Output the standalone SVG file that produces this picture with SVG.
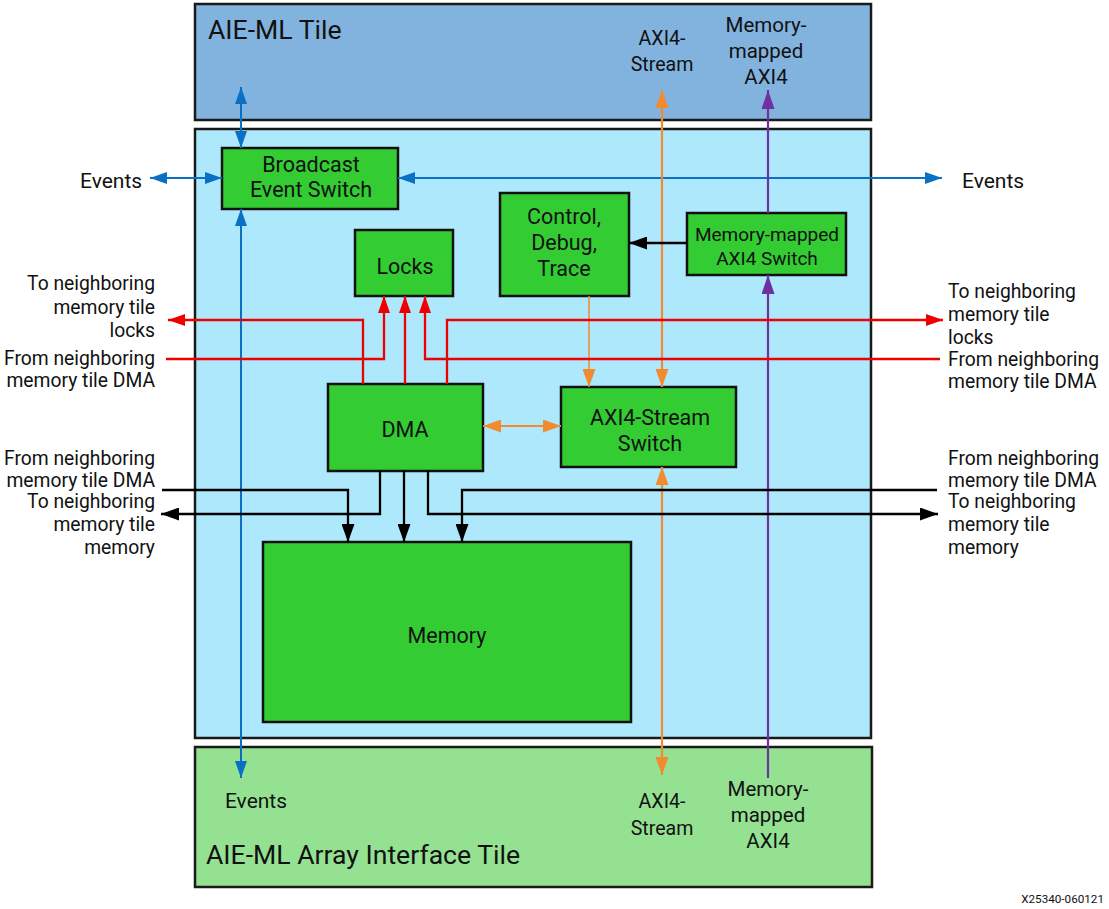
<svg xmlns="http://www.w3.org/2000/svg" width="1109" height="909" viewBox="0 0 1109 909">
<style>
.tile{stroke:#1a1a1a;stroke-width:2.5}
.box{fill:#33cc33;stroke:#111;stroke-width:2.5}
text{font-family:Roboto,"Liberation Sans",sans-serif;fill:#111}
.t{font-size:21.5px;text-anchor:middle}
.s{font-size:19px;text-anchor:middle}
.lbl{font-size:19.3px}
.ev{font-size:21px}
.mm{font-size:20.5px;text-anchor:middle}
.ax{font-size:19.6px;text-anchor:middle}
.r{text-anchor:end}
.big{font-size:26.6px}
.c{fill:none}
.blue{stroke:#0a70c4;stroke-width:2;marker-start:url(#ab);marker-end:url(#ab)}
.or{stroke:#f28a30;stroke-width:2.2}
.pu{stroke:#7030a0;stroke-width:2.2;marker-end:url(#ap)}
.bk{stroke:#000;stroke-width:2.3;marker-end:url(#ak)}
.rd{stroke:#ee0000;stroke-width:2.3;marker-end:url(#ar)}
</style>
<defs>
<marker id="ab" markerUnits="userSpaceOnUse" markerWidth="17" markerHeight="12" refX="17" refY="6" orient="auto-start-reverse"><path d="M0,0 L17,6 L0,12 z" fill="#0a70c4"/></marker>
<marker id="ao" markerUnits="userSpaceOnUse" markerWidth="18" markerHeight="13" refX="18" refY="6.5" orient="auto-start-reverse"><path d="M0,0 L18,6.5 L0,13 z" fill="#f28a30"/></marker>
<marker id="ap" markerUnits="userSpaceOnUse" markerWidth="19" markerHeight="13" refX="19" refY="6.5" orient="auto"><path d="M0,0 L19,6.5 L0,13 z" fill="#7030a0"/></marker>
<marker id="ak" markerUnits="userSpaceOnUse" markerWidth="18" markerHeight="13" refX="18" refY="6.5" orient="auto"><path d="M0,0 L18,6.5 L0,13 z" fill="#000"/></marker>
<marker id="ar" markerUnits="userSpaceOnUse" markerWidth="17" markerHeight="12" refX="17" refY="6" orient="auto"><path d="M0,0 L17,6 L0,12 z" fill="#ee0000"/></marker>
</defs>
<rect width="1109" height="909" fill="#fff"/>
<g id="tile-top"><rect class="tile" x="195" y="4" width="676" height="116" fill="#82b3de"/><text class="big" x="208" y="39">AIE-ML Tile</text></g>
<g id="tile-mem"><rect class="tile" x="195" y="129" width="676" height="609" fill="#aee8fc"/></g>
<g id="tile-bottom"><rect class="tile" x="195" y="747" width="677" height="140" fill="#94e291"/><text class="big" x="206" y="864">AIE-ML Array Interface Tile</text></g>
<g id="bes"><rect class="box" x="222" y="148" width="176" height="61"/><text class="t" x="311" y="172">Broadcast</text><text class="t" x="311" y="197">Event Switch</text></g>
<g id="locks"><rect class="box" x="355" y="230" width="98" height="66"/><text class="t" x="405" y="274">Locks</text></g>
<g id="cdt"><rect class="box" x="500" y="193" width="129" height="103"/><text class="t" x="564" y="224">Control,</text><text class="t" x="564" y="250">Debug,</text><text class="t" x="564" y="276">Trace</text></g>
<g id="mmsw"><rect class="box" x="687" y="213" width="159" height="62"/><text class="s" x="767" y="241">Memory-mapped</text><text class="s" x="767" y="265">AXI4 Switch</text></g>
<g id="dma"><rect class="box" x="328" y="384" width="155" height="87"/><text class="t" x="405" y="437">DMA</text></g>
<g id="axis"><rect class="box" x="561" y="387" width="175" height="80"/><text class="t" x="650" y="425">AXI4-Stream</text><text class="t" x="650" y="451">Switch</text></g>
<g id="memory"><rect class="box" x="263" y="542" width="368" height="180"/><text class="t" x="447" y="643">Memory</text></g>
<g id="connectors" class="c">
<path class="blue" d="M241,87 L241,148"/>
<path class="blue" d="M241,209 L241,778"/>
<path class="blue" d="M150,178 L222,178"/>
<path class="blue" d="M398,178 L942,178"/>
<path class="or" d="M662,90 L662,387" style="marker-start:url(#ao);marker-end:url(#ao)"/>
<path class="or" d="M662,467 L662,775" style="marker-start:url(#ao);marker-end:url(#ao)"/>
<path class="or" d="M589,296 L589,387" style="stroke-width:1.5;marker-end:url(#ao)"/>
<path class="or" d="M483,426 L561,426" style="marker-start:url(#ao);marker-end:url(#ao)"/>
<path class="pu" d="M768,213 L768,90"/>
<path class="pu" d="M768,778 L768,275"/>
<path class="bk" d="M687,243 L629,243"/>
<path class="bk" d="M162,490 L348,490 L348,542"/>
<path class="bk" d="M380,471 L380,514 L161,514"/>
<path class="bk" d="M404,471 L404,542"/>
<path class="bk" d="M428,471 L428,514 L938,514"/>
<path class="bk" d="M937,490 L462,490 L462,542"/>
<path class="rd" d="M363,384 L363,320 L168,320"/>
<path class="rd" d="M166,359 L384,359 L384,296"/>
<path class="rd" d="M405,384 L405,296"/>
<path class="rd" d="M940,359 L425,359 L425,296"/>
<path class="rd" d="M447,384 L447,320 L943,320"/>
</g>
<g id="labels">
<text class="ev" x="80" y="188">Events</text>
<text class="ev" x="962" y="188">Events</text>
<text class="ax" x="662" y="45">AXI4-</text>
<text class="ax" x="662" y="71">Stream</text>
<text class="mm" x="766" y="32">Memory-</text>
<text class="mm" x="766" y="58">mapped</text>
<text class="mm" x="766" y="84">AXI4</text>
<text class="lbl r" x="155" y="290">To neighboring</text>
<text class="lbl r" x="155" y="314">memory tile</text>
<text class="lbl r" x="155" y="337">locks</text>
<text class="lbl r" x="155" y="365">From neighboring</text>
<text class="lbl r" x="155" y="387">memory tile DMA</text>
<text class="lbl r" x="155" y="465">From neighboring</text>
<text class="lbl r" x="155" y="487">memory tile DMA</text>
<text class="lbl r" x="155" y="508">To neighboring</text>
<text class="lbl r" x="155" y="531">memory tile</text>
<text class="lbl r" x="155" y="554">memory</text>
<text class="lbl" x="948" y="298">To neighboring</text>
<text class="lbl" x="948" y="321">memory tile</text>
<text class="lbl" x="948" y="344">locks</text>
<text class="lbl" x="948" y="366">From neighboring</text>
<text class="lbl" x="948" y="388">memory tile DMA</text>
<text class="lbl" x="948" y="465">From neighboring</text>
<text class="lbl" x="948" y="487">memory tile DMA</text>
<text class="lbl" x="948" y="508">To neighboring</text>
<text class="lbl" x="948" y="531">memory tile</text>
<text class="lbl" x="948" y="554">memory</text>
<text class="ev" x="256" y="808" text-anchor="middle">Events</text>
<text class="ax" x="662" y="808">AXI4-</text>
<text class="ax" x="662" y="835">Stream</text>
<text class="mm" x="768" y="796">Memory-</text>
<text class="mm" x="768" y="822">mapped</text>
<text class="mm" x="768" y="848">AXI4</text>
<text x="1104" y="903" text-anchor="end" font-size="11.7">X25340-060121</text>
</g>
</svg>
